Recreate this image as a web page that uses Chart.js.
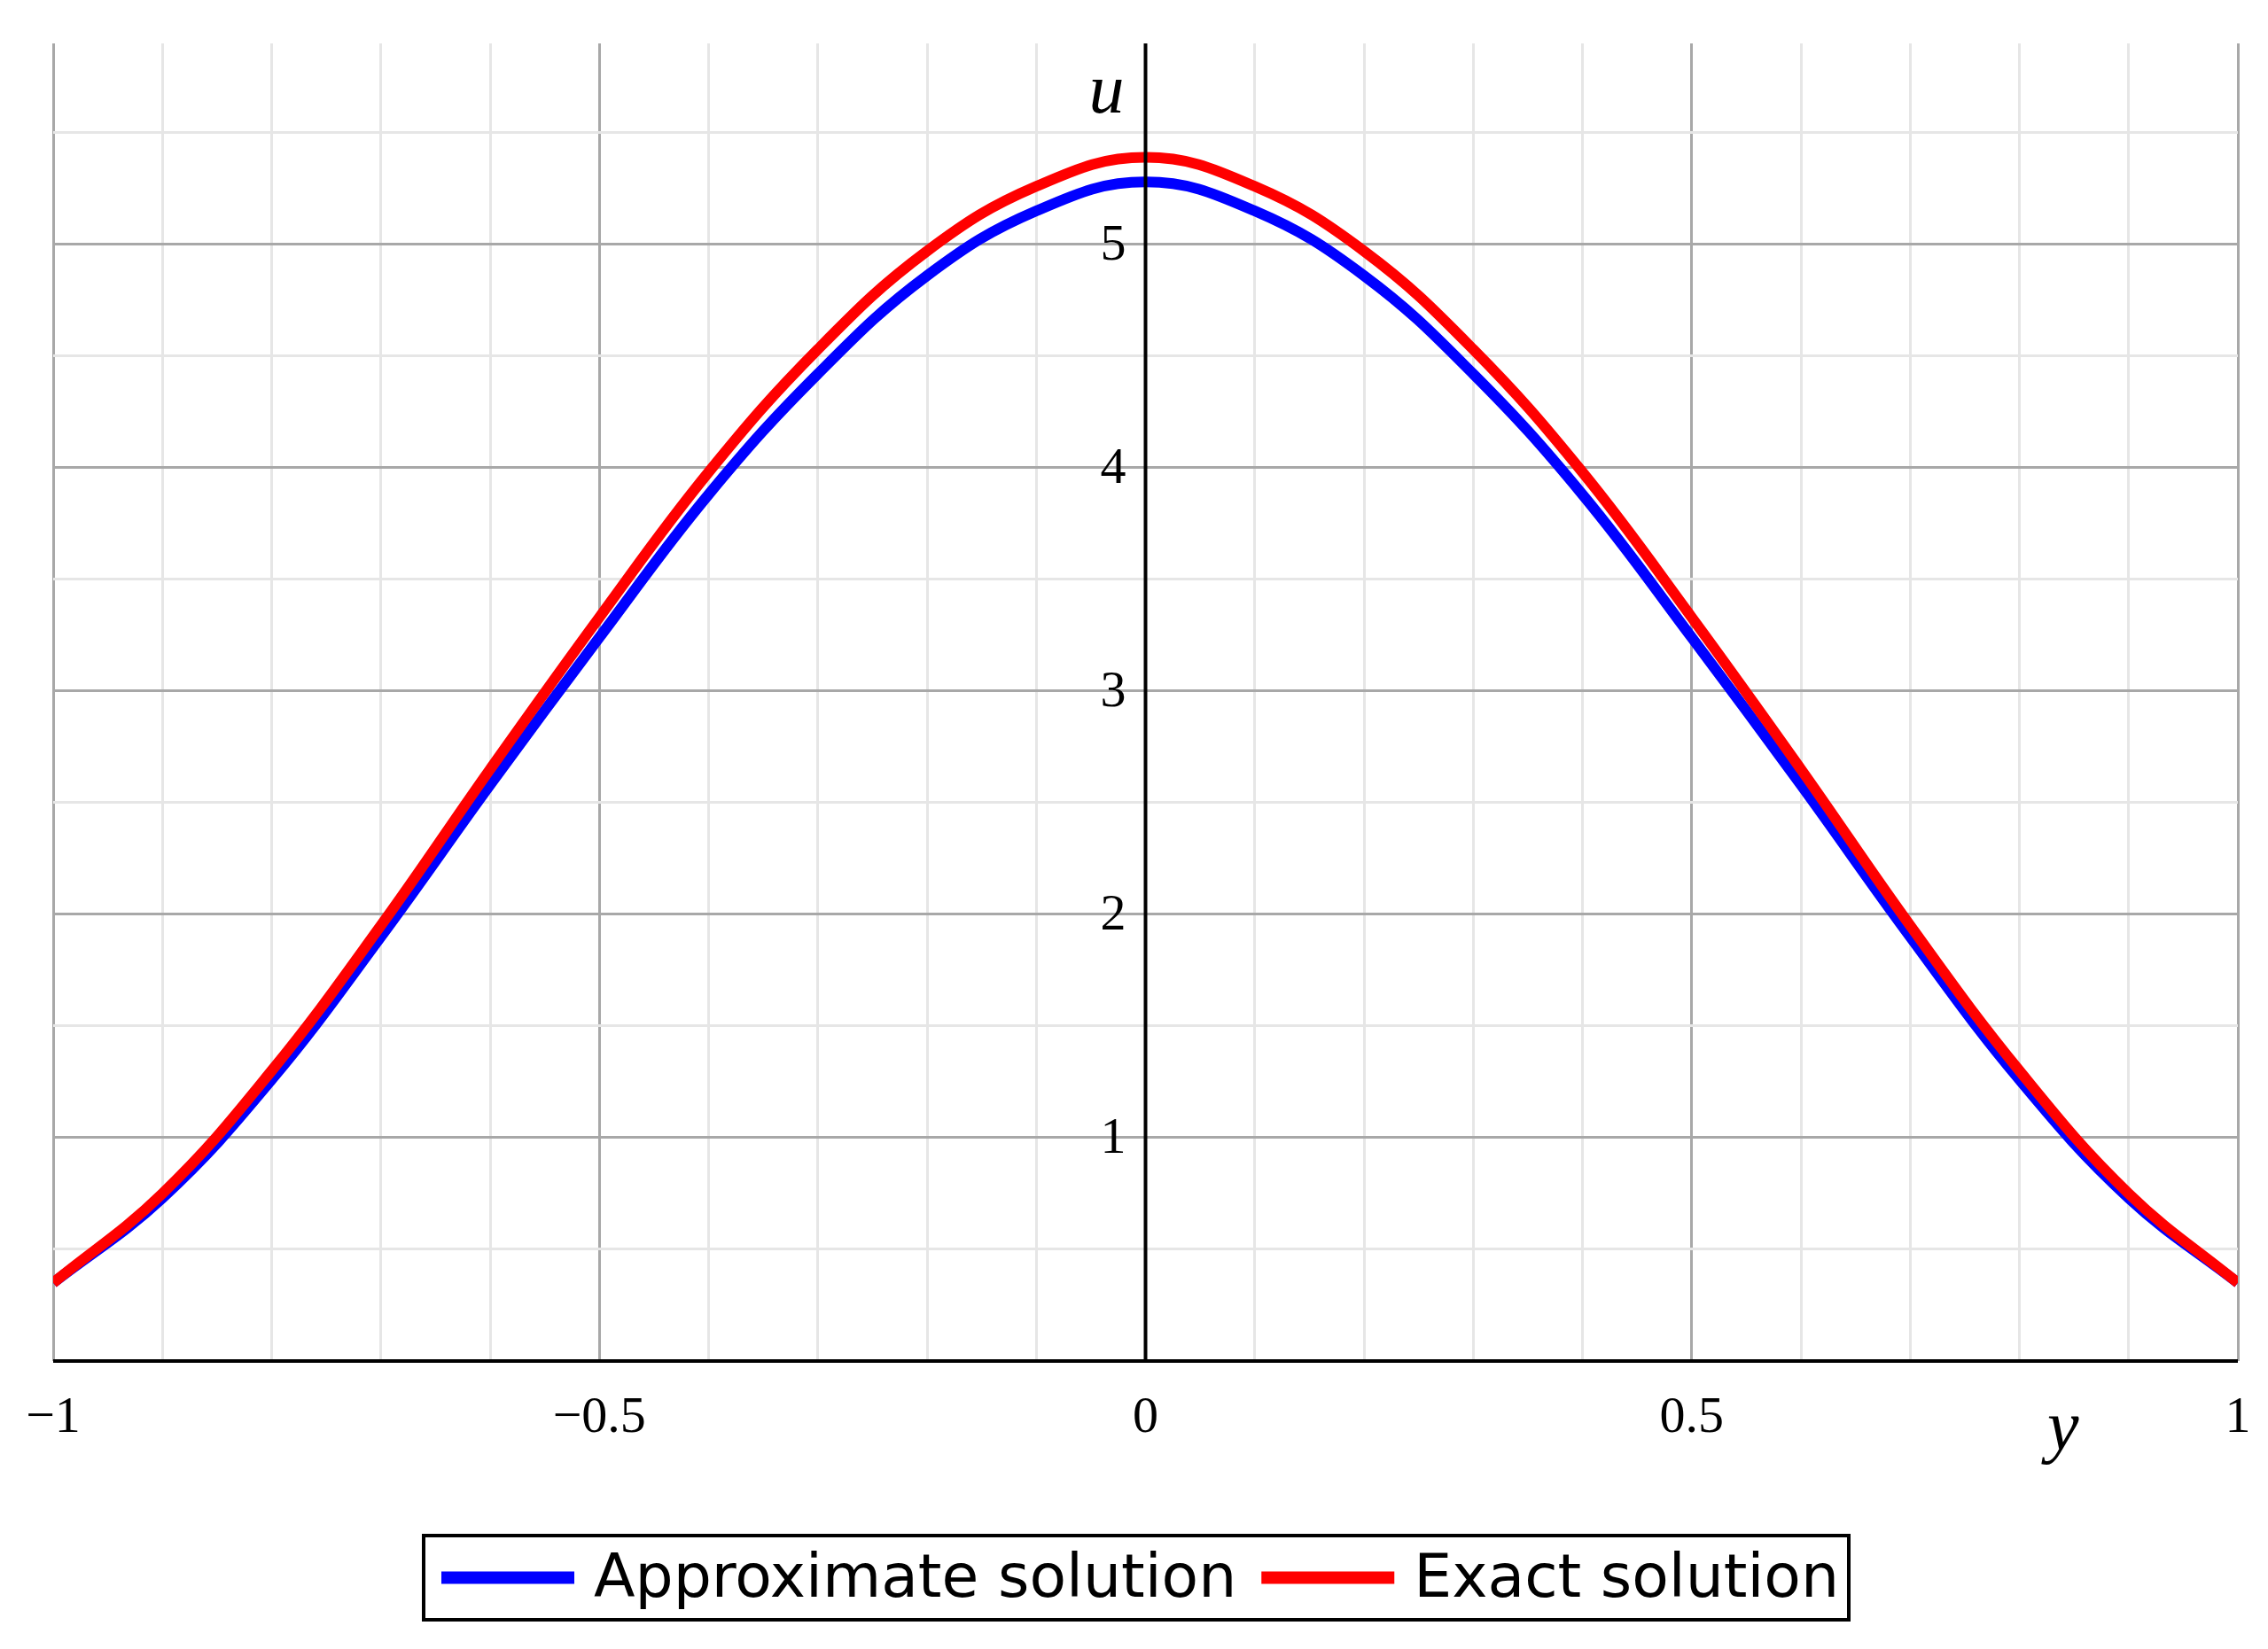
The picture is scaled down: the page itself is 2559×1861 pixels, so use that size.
<!DOCTYPE html>
<html>
<head>
<meta charset="utf-8">
<script src="https://cdn.jsdelivr.net/npm/chart.js@4/dist/chart.umd.min.js"></script>
<style>
  html, body { margin: 0; padding: 0; background: #fff; }
  #wrap { width: 2559px; height: 1861px; }
</style>
</head>
<body>
<div id="wrap"><canvas id="plot"></canvas></div>
<script>
// y positions and the two solutions
var yVals = [-1, -0.9, -0.8, -0.7, -0.6, -0.5, -0.4, -0.3, -0.2, -0.1, 0, 0.1, 0.2, 0.3, 0.4, 0.5, 0.6, 0.7, 0.8, 0.9, 1];
var approx = [0.35, 0.73, 1.26, 1.9, 2.58, 3.24, 3.88, 4.42, 4.86, 5.15, 5.28, 5.15, 4.86, 4.42, 3.88, 3.24, 2.58, 1.9, 1.26, 0.73, 0.35];
var exact = [0.35, 0.75, 1.3, 1.95, 2.65, 3.33, 3.98, 4.53, 4.97, 5.26, 5.39, 5.26, 4.97, 4.53, 3.98, 3.33, 2.65, 1.95, 1.3, 0.75, 0.35];
var seriesNames = ["Approximate solution", "Exact solution"];
var seriesColors = ["#0000ff", "#ff0000"];
var xTickLabels = ["\u22121", "\u22120.5", "0", "0.5", "1"];
var xTickValues = [-1, -0.5, 0, 0.5, 1];
var yTickValues = [1, 2, 3, 4, 5];

function pts(vals) {
  return yVals.map(function (v, i) { return { x: v, y: vals[i] }; });
}
function isMult(v, s) { return Math.abs(v / s - Math.round(v / s)) < 1e-6; }

var serif = "'Liberation Serif', 'DejaVu Serif', serif";

// axes through the origin, tick labels, axis names and the boxed legend
var overlay = {
  id: 'overlay',
  afterDatasetsDraw: function (chart) {
    var c = chart.ctx, xs = chart.scales.x, ys = chart.scales.y, a = chart.chartArea;
    var x0 = xs.getPixelForValue(0), yb = ys.getPixelForValue(0);
    c.save();
    c.strokeStyle = '#000'; c.lineWidth = 4;
    c.beginPath(); c.moveTo(x0, a.top); c.lineTo(x0, yb); c.stroke();
    c.beginPath(); c.moveTo(a.left, yb); c.lineTo(a.right, yb); c.stroke();

    c.fillStyle = '#000';
    c.font = '58px ' + serif;
    c.textAlign = 'center'; c.textBaseline = 'top';
    xTickValues.forEach(function (v, i) {
      c.fillText(xTickLabels[i], xs.getPixelForValue(v), yb + 36);
    });
    c.textAlign = 'right'; c.textBaseline = 'middle';
    yTickValues.forEach(function (v) {
      c.fillText(String(v), x0 - 22, ys.getPixelForValue(v) + 2);
    });

    c.font = 'italic 80px ' + serif;
    c.textAlign = 'right'; c.textBaseline = 'alphabetic';
    c.fillText('u', x0 - 24, a.top + 78);
    c.textAlign = 'center';
    c.fillText('y', xs.getPixelForValue(0.84), yb + 100);

    // legend
    var lx = 478, ly = 1733, lw = 1608, lh = 95;
    c.strokeStyle = '#000'; c.lineWidth = 4;
    c.strokeRect(lx, ly, lw, lh);
    c.font = '68px "DejaVu Sans", sans-serif';
    c.textAlign = 'left'; c.textBaseline = 'middle';
    var cx = lx + 20, cy = ly + lh / 2;
    seriesNames.forEach(function (name, i) {
      c.strokeStyle = seriesColors[i]; c.lineWidth = 14;
      c.beginPath(); c.moveTo(cx, cy); c.lineTo(cx + 150, cy); c.stroke();
      cx += 172;
      c.fillText(name, cx, cy + 4);
      cx += c.measureText(name).width + 28;
    });
    c.restore();
  }
};

new Chart(document.getElementById('plot'), {
  type: 'line',
  data: {
    datasets: [
      { label: seriesNames[0], data: pts(approx), borderColor: seriesColors[0], borderWidth: 12, pointRadius: 0, tension: 0.4, order: 1 },
      { label: seriesNames[1], data: pts(exact), borderColor: seriesColors[1], borderWidth: 12, pointRadius: 0, tension: 0.4, order: 0 }
    ]
  },
  options: {
    responsive: true,
    maintainAspectRatio: false,
    animation: false,
    layout: { padding: { left: 60, right: 34, top: 49, bottom: 325 } },
    plugins: { legend: { display: false }, tooltip: { enabled: false } },
    scales: {
      x: {
        type: 'linear', min: -1, max: 1,
        border: { display: false },
        ticks: { display: false, stepSize: 0.1 },
        grid: {
          drawTicks: false, lineWidth: 3,
          color: function (ctx) { return isMult(ctx.tick.value, 0.5) ? '#a8a8a8' : '#e6e6e6'; }
        }
      },
      y: {
        min: 0, max: 5.9,
        border: { display: false },
        ticks: { display: false, stepSize: 0.5 },
        grid: {
          drawTicks: false, lineWidth: 3,
          color: function (ctx) {
            var v = ctx.tick.value;
            if (!isMult(v, 0.5)) return 'rgba(0,0,0,0)';
            return isMult(v, 1) ? '#a8a8a8' : '#e6e6e6';
          }
        }
      }
    }
  },
  plugins: [overlay]
});
</script>
</body>
</html>
